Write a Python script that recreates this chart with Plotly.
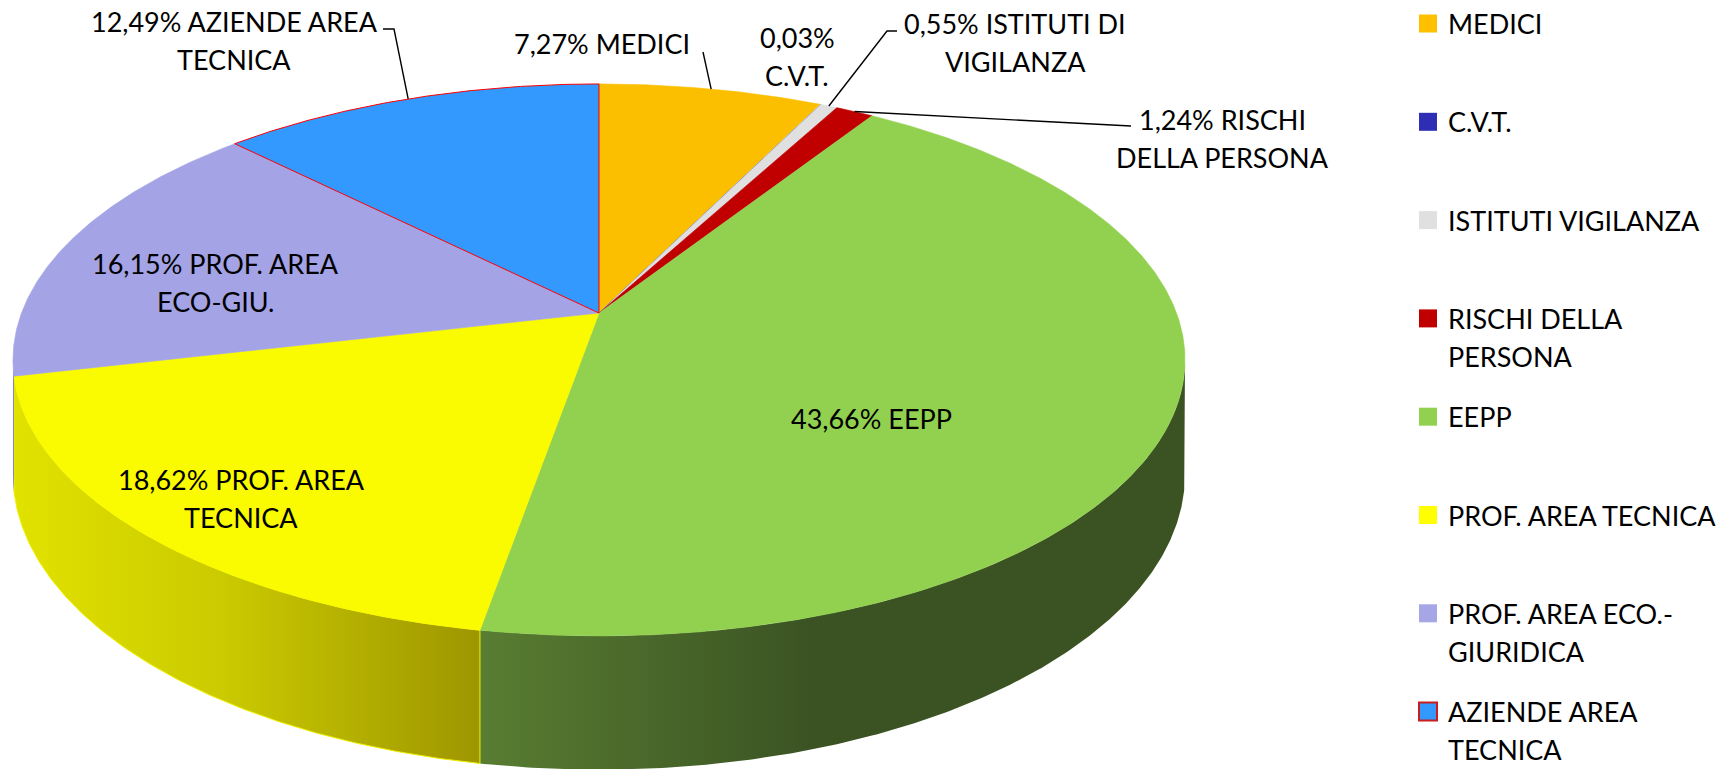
import numpy as np
import plotly.graph_objects as go

# ---------------- data ----------------
categories = ["MEDICI", "C.V.T.", "ISTITUTI VIGILANZA", "RISCHI DELLA PERSONA", "EEPP",
              "PROF. AREA TECNICA", "PROF. AREA ECO.-GIURIDICA", "AZIENDE AREA TECNICA"]
values = [7.27, 0.03, 0.55, 1.24, 43.66, 18.62, 16.15, 12.49]
slice_names = [["MEDICI"], ["", "C.V.T."], ["ISTITUTI DI", "VIGILANZA"], ["RISCHI", "DELLA PERSONA"],
               ["EEPP"], ["PROF. AREA", "TECNICA"], ["PROF. AREA", "ECO-GIU."], ["AZIENDE AREA", "TECNICA"]]
legend_lines = [["MEDICI"], ["C.V.T."], ["ISTITUTI VIGILANZA"], ["RISCHI DELLA", "PERSONA"], ["EEPP"],
                ["PROF. AREA TECNICA"], ["PROF. AREA ECO.-", "GIURIDICA"], ["AZIENDE AREA", "TECNICA"]]

# ---------------- styles ----------------
top_colors = ["#FBBF00", "#2E2EB5", "#E0E0E0", "#C00000", "#92D050", "#FAFA00", "#A3A3E6", "#3399FF"]
legend_colors = ["#FFC000", "#2E2EB5", "#E0E0E0", "#C00000", "#92D050", "#FFFF00", "#A6A6E6", "#3399FF"]
side_scales = [
    [[0, "#C89800"], [1, "#8A6A00"]],
    [[0, "#20207E"], [1, "#161660"]],
    [[0, "#B0B0B0"], [1, "#8A8A8A"]],
    [[0, "#8A0000"], [1, "#600000"]],
    [[0, "#587D32"], [0.47, "#3B5323"], [1, "#3B5323"]],
    [[0, "#E2E200"], [0.45, "#CACA00"], [1, "#9E9600"]],
    [[0, "#8C8CCC"], [1, "#7878B4"]],
    [[0, "#2270C8"], [1, "#1A58A0"]],
]
border_colors = ["#FBBF00", "#2E2EB5", "#E0E0E0", "#C00000", "#92D050", "#FAFA00", "#A3A3E6", "#FF0000"]
FONT = "Lato"
FS = 27
LINE_H = 38

# geometry (pixels)
W, H = 1724, 769
CX, CY = 599, 313
A, B, K = 577.5, 268.0, 0.17
D0 = 111.0

# label placement: (x, first line y, xanchor)
label_pos = [(692, 43, "right"), (797, 37, "center"), (1015, 23, "center"), (1222, 119, "center"),
             (871, 418, "center"), (241, 479, "center"), (215, 263, "center"), (234, 21, "center")]
# leader lines: starting points near the label (None = no leader)
leader_start = [[(703, 52)], None, [(897, 31), (887, 31)], [(1131, 126)], None, None, None,
                [(383, 29), (394, 29)]]

LEG_X, LEG_Y0, LEG_STEP = 1419, 23.5, 98.3


def proj(t):
    den = 1 + K * np.sin(t)
    return CX + A * np.cos(t) / den, CY - B * np.sin(t) / den


def proj_bottom(t):
    u, v = proj(t)
    return u, v + D0 / (1 + K * np.sin(t))


def fmt(v):
    return f"{v:.2f}".replace(".", ",") + "%"


total = sum(values)
cum = np.concatenate([[0], np.cumsum(values)]) / total
t_start = np.pi / 2 - 2 * np.pi * cum[:-1]
t_end = np.pi / 2 - 2 * np.pi * cum[1:]

fig = go.Figure()

# ---- side walls (front half only) ----
lo, hi = -np.pi + np.arcsin(K), -np.arcsin(K)
for i, cat in enumerate(categories):
    a0, a1 = max(t_end[i], lo), min(t_start[i], hi)
    if a1 <= a0:
        continue
    n = max(3, int((a1 - a0) * 180 / np.pi * 3))
    ts = np.linspace(a0, a1, n)
    ut, vt = proj(ts)
    ub, vb = proj_bottom(ts[::-1])
    xs = np.concatenate([ut, ub, ut[:1]])
    ys = np.concatenate([vt, vb, vt[:1]])
    fig.add_trace(go.Scatter(
        x=xs, y=ys, mode="lines", fill="toself",
        fillgradient=dict(type="horizontal", colorscale=side_scales[i]),
        line=dict(width=1 if i == 5 else 0, color="#F0F000" if i == 5 else side_scales[i][0][1]),
        hoverinfo="skip", showlegend=False))

# ---- top faces ----
order = [i for i in range(len(categories)) if i != 7] + [7]
for i in order:
    n = max(3, int(abs(t_start[i] - t_end[i]) * 180 / np.pi * 3))
    ts = np.linspace(t_start[i], t_end[i], n)
    u, v = proj(ts)
    xs = np.concatenate([[CX], u, [CX]])
    ys = np.concatenate([[CY], v, [CY]])
    fig.add_trace(go.Scatter(
        x=xs, y=ys, mode="lines", fill="toself", fillcolor=top_colors[i],
        line=dict(width=1 if i == 7 else 0.6, color=border_colors[i]),
        name=categories[i], hoveron="fills",
        text=f"{categories[i]}: {fmt(values[i])}", hoverinfo="text", showlegend=False))

# ---- data labels ----
annotations = []
for i, cat in enumerate(categories):
    lines = [fmt(values[i]) + (" " + slice_names[i][0] if slice_names[i][0] else "")] + slice_names[i][1:]
    x, y0, anc = label_pos[i]
    for j, ln in enumerate(lines):
        annotations.append(dict(x=x, y=y0 + j * LINE_H, xref="x", yref="y", text=ln, showarrow=False,
                                xanchor=anc, yanchor="middle", font=dict(family=FONT, size=FS, color="black")))

# ---- leader lines ----
for i, st in enumerate(leader_start):
    if st is None:
        continue
    tm = (t_start[i] + t_end[i]) / 2
    ue, ve = proj(tm)
    xs = [p[0] for p in st] + [ue]
    ys = [p[1] for p in st] + [ve]
    fig.add_trace(go.Scatter(x=xs, y=ys, mode="lines", line=dict(color="black", width=1.4),
                             hoverinfo="skip", showlegend=False))

# ---- legend (manual) ----
shapes = []
for i, cat in enumerate(categories):
    yc = LEG_Y0 + i * LEG_STEP
    shapes.append(dict(type="rect", xref="x", yref="y", x0=LEG_X, x1=LEG_X + 18, y0=yc - 9, y1=yc + 9,
                       fillcolor=legend_colors[i],
                       line=dict(width=2 if i == 7 else 0, color="#C81E1E")))
    for j, ln in enumerate(legend_lines[i]):
        annotations.append(dict(x=LEG_X + 27, y=yc + j * LINE_H, xref="x", yref="y", text=ln,
                                showarrow=False, xanchor="left", yanchor="middle",
                                font=dict(family=FONT, size=FS, color="black")))

fig.update_layout(
    width=W, height=H, margin=dict(l=0, r=0, t=0, b=0),
    paper_bgcolor="white", plot_bgcolor="white",
    xaxis=dict(range=[0, W], visible=False, fixedrange=True),
    yaxis=dict(range=[H, 0], visible=False, fixedrange=True),
    showlegend=False, annotations=annotations, shapes=shapes,
    font=dict(family=FONT),
)

fig.write_html("out.html", config={"displayModeBar": False},
               post_script="document.body.style.margin='0';document.body.style.overflow='hidden';")
